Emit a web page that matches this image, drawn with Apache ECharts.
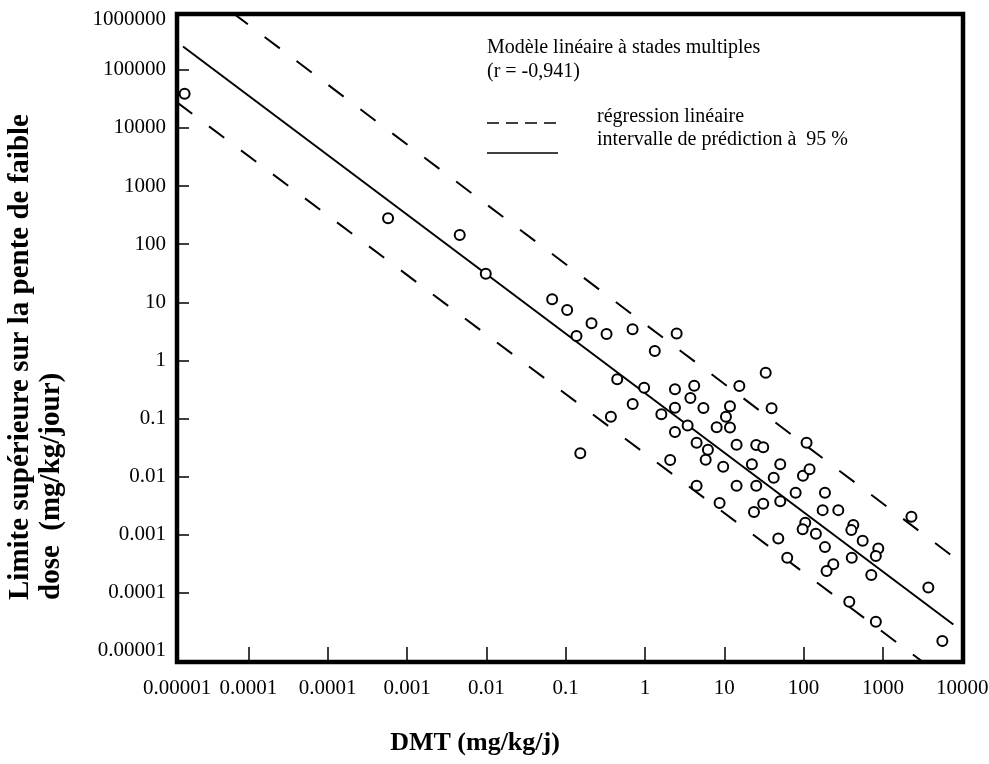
<!DOCTYPE html>
<html><head><meta charset="utf-8">
<script src="https://cdn.jsdelivr.net/npm/echarts@6/dist/echarts.min.js"></script>
<style>html,body{margin:0;padding:0;background:#fff}#c{width:989px;height:764px}</style>
</head><body><div id="c"></div>
<script>
// Tick labels (as printed on the original figure) and their decade positions
const xTickLabels = ['0.00001','0.0001','0.0001','0.001','0.01','0.1','1','10','100','1000','10000'];
const xTickExponents = [-6,-5,-4,-3,-2,-1,0,1,2,3,4];
const yTickLabels = ['0.00001','0.0001','0.001','0.01','0.1','1','10','100','1000','10000','100000','1000000'];
const yTickExponents = [-5,-4,-3,-2,-1,0,1,2,3,4,5,6];

// Scatter data: DMT (mg/kg/j) and upper bound on low-dose slope
const dmt = [1.57e-6,5.77e-4,4.62e-3,9.84e-3,0.0676,0.1045,0.212,0.328,0.137,0.698,
  2.51,1.33,0.447,0.977,2.39,4.18,15.5,3.74,0.700,2.39,
  5.46,11.8,10.5,0.372,1.61,3.45,8.02,11.8,2.39,4.48,
  14.3,25.3,31.0,109,6.22,0.153,5.83,2.08,9.70,22.3,
  50.8,4.48,14.3,25.3,33.3,39.5,42.0,98.2,119,79.4,
  186,8.73,31.0,23.7,50.8,174,274,2290,105,97.3,
  143,424,400,556,48.0,62.2,186,875,815,405,
  237,195,714,3740,377,815,5620];
const slope = [38600,280,144,30.8,11.3,7.38,4.36,2.85,2.63,3.43,
  2.90,1.45,0.473,0.339,0.318,0.366,0.362,0.225,0.177,0.153,
  0.151,0.162,0.107,0.107,0.118,0.0757,0.0708,0.0700,0.0585,0.0383,
  0.0354,0.0349,0.0319,0.0383,0.0290,0.0252,0.0195,0.0193,0.0148,0.0163,
  0.0163,0.00693,0.00693,0.00693,0.614,0.150,0.00955,0.0103,0.0134,0.00527,
  0.00527,0.00351,0.00341,0.00245,0.00377,0.00265,0.00265,0.00204,0.00161,0.00124,
  0.00104,0.00147,0.00120,0.000787,0.000865,0.000401,0.000612,0.000582,0.000429,0.000401,
  0.000310,0.000238,0.000202,0.000123,0.0000700,0.0000317,0.0000148];

// Regression line and dashed band (endpoints)
const fitDmt = [1.50e-6, 7730];
const fitSlope = [252000, 2.86e-5];
const upperDmt = [2.51e-6, 10200];
const upperSlope = [2480000, 3.14e-4];
const lowerDmt = [1.26e-6, 3980];
const lowerSlope = [27500, 5.15e-6];

const L = Math.log10;
const pts = (xs, ys) => xs.map((x, i) => [L(x), L(ys[i])]);

const xMin = -5.9, xMax = 4.01, yMin = -5.19, yMax = 5.96;
const serif = '"Liberation Serif", "Times New Roman", serif';

const chart = echarts.init(document.getElementById('c'), null, {renderer: 'canvas'});
chart.setOption({
  animation: false,
  backgroundColor: '#fff',
  grid: {left: 177, right: 26, top: 14, bottom: 102, show: true, borderColor: '#000', borderWidth: 4.5, backgroundColor: 'transparent', outerBoundsMode: 'none'},
  xAxis: {
    type: 'value', min: xMin, max: xMax, position: 'bottom',
    axisLine: {show: false, onZero: false},
    splitLine: {show: false},
    axisTick: {show: true, inside: true, length: 15, lineStyle: {color: '#000', width: 1.5},
      customValues: xTickExponents.filter(v => v > xMin && v < xMax - 0.5)},
    axisLabel: {
      customValues: xTickExponents.map(v => Math.max(v, xMin)),
      formatter: v => xTickLabels[xTickExponents.indexOf(Math.round(v))],
      color: '#000', fontFamily: serif, fontSize: 21, margin: 16
    }
  },
  yAxis: {
    type: 'value', min: yMin, max: yMax, position: 'left',
    axisLine: {show: false, onZero: false},
    splitLine: {show: false},
    axisTick: {show: true, inside: true, length: 12, lineStyle: {color: '#000', width: 1.5},
      customValues: yTickExponents.filter(v => v > yMin + 0.5 && v < yMax)},
    axisLabel: {
      customValues: yTickExponents.map(v => Math.min(v, yMax - 0.1)),
      formatter: v => yTickLabels[yTickExponents.indexOf(Math.round(v))],
      color: '#000', fontFamily: serif, fontSize: 21, margin: 11
    }
  },
  series: [
    {type: 'line', data: pts(upperDmt, upperSlope), symbol: 'none', clip: true,
      lineStyle: {color: '#000', width: 2, type: [19, 21]}, z: 2},
    {type: 'line', data: pts(lowerDmt, lowerSlope), symbol: 'none', clip: true,
      lineStyle: {color: '#000', width: 2, type: [19, 21]}, z: 2},
    {type: 'line', data: pts(fitDmt, fitSlope), symbol: 'none', clip: true,
      lineStyle: {color: '#000', width: 2}, z: 2},
    {type: 'scatter', data: pts(dmt, slope), symbol: 'circle', symbolSize: 10,
      itemStyle: {color: '#fff', borderColor: '#000', borderWidth: 2, opacity: 1}, z: 5}
  ],
  graphic: [
    {type: 'text', x: 487, y: 48, style: {text: 'Modèle linéaire à stades multiples', font: '20px ' + serif, fill: '#000', align: 'left', verticalAlign: 'middle'}},
    {type: 'text', x: 487, y: 72, style: {text: '(r = -0,941)', font: '20px ' + serif, fill: '#000', align: 'left', verticalAlign: 'middle'}},
    {type: 'line', shape: {x1: 487, y1: 123, x2: 558, y2: 123}, style: {stroke: '#000', lineWidth: 1.3, lineDash: [12, 7]}},
    {type: 'text', x: 597, y: 117, style: {text: 'régression linéaire', font: '20px ' + serif, fill: '#000', align: 'left', verticalAlign: 'middle'}},
    {type: 'line', shape: {x1: 487, y1: 153, x2: 558, y2: 153}, style: {stroke: '#000', lineWidth: 1.3}},
    {type: 'text', x: 597, y: 140, style: {text: 'intervalle de prédiction à  95 %', font: '20px ' + serif, fill: '#000', align: 'left', verticalAlign: 'middle'}},
    {type: 'text', x: 475, y: 743, style: {text: 'DMT (mg/kg/j)', font: 'bold 26px ' + serif, fill: '#000', align: 'center', verticalAlign: 'middle'}},
    {type: 'text', x: 5, y: 600, rotation: Math.PI / 2, style: {text: 'Limite supérieure sur la pente de faible\ndose  (mg/kg/jour)', font: 'bold 29px ' + serif, lineHeight: 31, fill: '#000', align: 'left', verticalAlign: 'top'}}
  ]
});
</script>
</body></html>
